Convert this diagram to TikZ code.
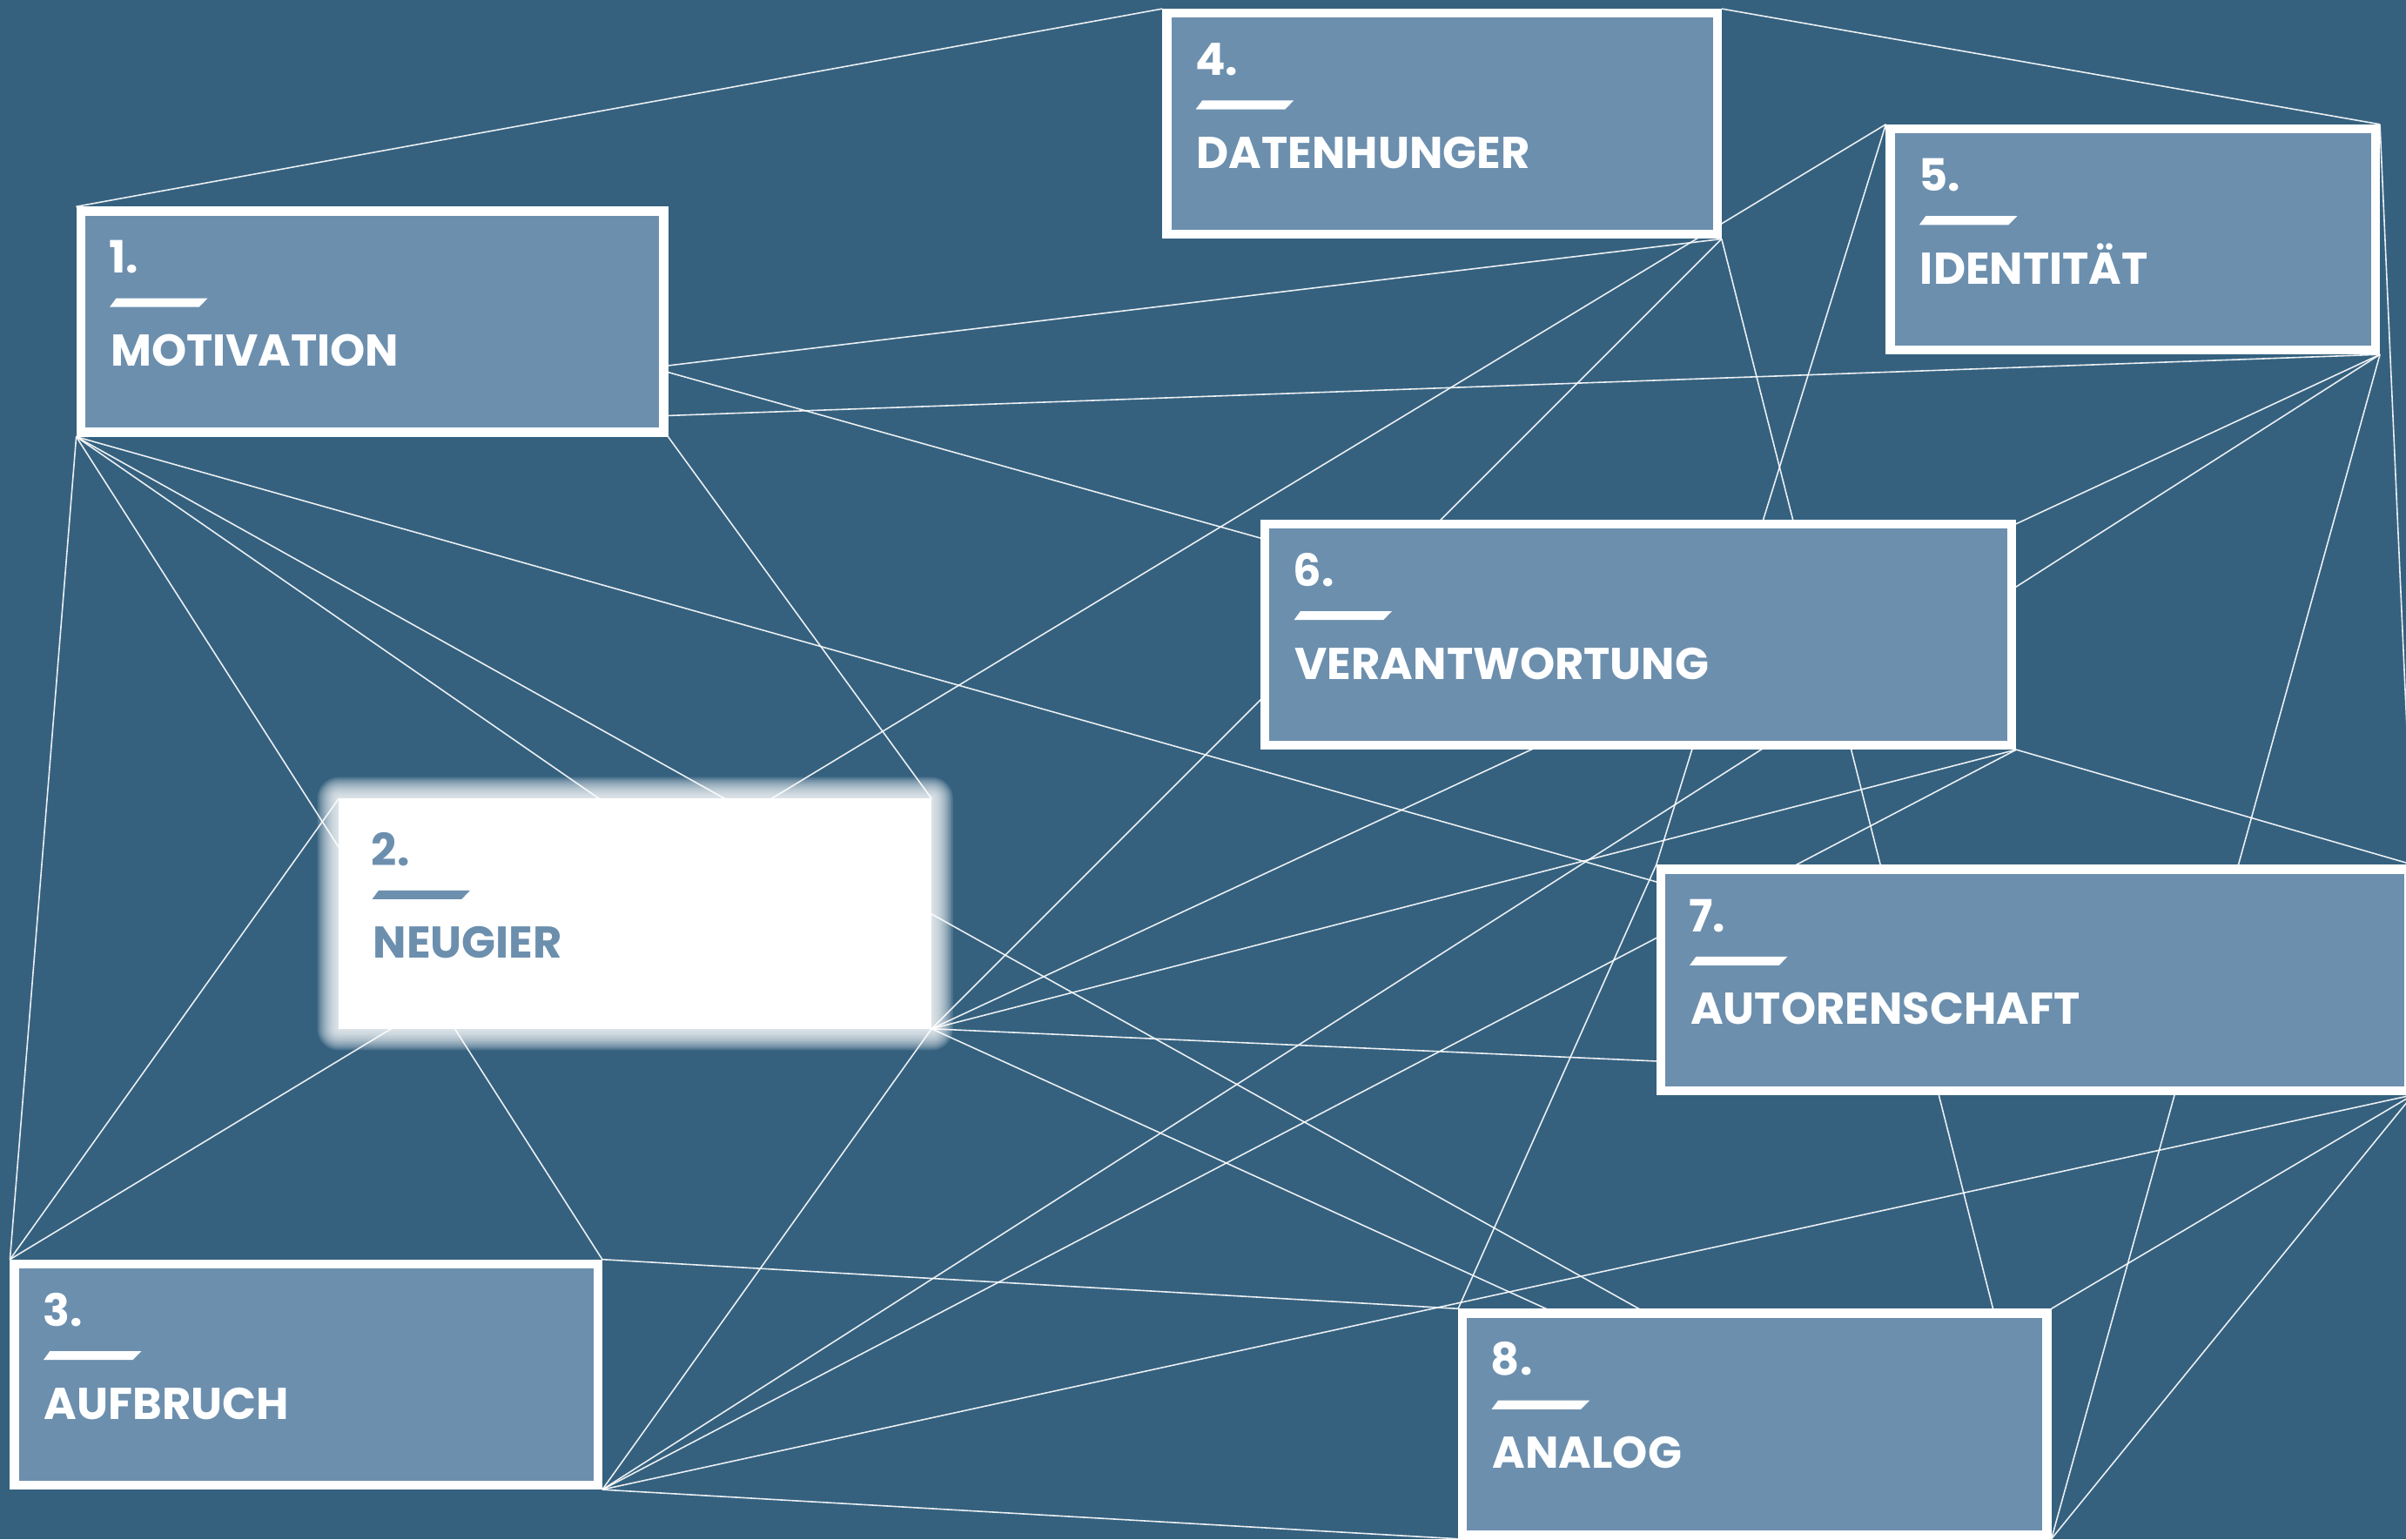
\documentclass[tikz,border=0pt]{standalone}
\usepackage{fontspec}
\newfontfamily\panelfont{Poppins}
\usetikzlibrary{calc}

\definecolor{bgblue}{RGB}{53,97,127}
\definecolor{panelblue}{RGB}{108,143,174}

\pgfdeclarelayer{backdrop}
\pgfdeclarelayer{links}
\pgfsetlayers{backdrop,links,main}

\tikzset{
  panel/.style={draw=white, line width=2.9pt, fill=panelblue, inner sep=0pt,
    outer sep=1.45pt, anchor=north west, minimum height=150*0.5pt-2.9pt},
  whitepanel/.style={panel, fill=white},
  link/.style={draw=white, draw opacity=0.9, line width=0.45pt},
  labeltext/.style={anchor=base west, inner sep=0pt,
    font=\panelfont\bfseries\fontsize{14.5}{16}\selectfont},
}

% number, slanted bar and title inside a panel
\newcommand\panellabel[4]{%
  \node[labeltext, text=#4] (#1num) at ([shift={(21,43.5)}]#1.north west) {#2};
  \fill[#4] ([shift={(21.8,65.5)}]#1.north west) -- ++(58.2,0) -- ++(5.6,-5.7) -- ++(-59.6,0) -- cycle;
  \node[labeltext, text=#4] (#1title) at ([shift={(22,104)}]#1.north west) {#3};
}

\begin{document}
\begin{tikzpicture}[x=0.5pt, y=-0.5pt]
  \useasboundingbox (0,0) rectangle (1568,1003);

  % panels (outer corners at the given positions)
  \node[panel, minimum width=385.7*0.5pt-2.9pt] (b1) at (49.7,134.6) {};
  \node[whitepanel, minimum width=386.3*0.5pt-2.9pt] (b2) at (220.8,520.4) {};
  \node[panel, minimum width=386.0*0.5pt-2.9pt] (b3) at (6.5,820.7) {};
  \node[panel, minimum width=364.5*0.5pt-2.9pt] (b4) at (757.5,5.7) {};
  \node[panel, minimum width=322.0*0.5pt-2.9pt] (b5) at (1229,81) {};
  \node[panel, minimum width=492.5*0.5pt-2.9pt] (b6) at (821.5,338.5) {};
  \node[panel, minimum width=493.1*0.5pt-2.9pt] (b7) at (1079.4,563.5) {};
  \node[panel, minimum width=386.6*0.5pt-2.9pt] (b8) at (950.3,852.8) {};

  \panellabel{b1}{1.}{MOTIVATION}{white}
  \panellabel{b2}{2.}{NEUGIER}{panelblue}
  \panellabel{b3}{3.}{AUFBRUCH}{white}
  \panellabel{b4}{4.}{DATENHUNGER}{white}
  \panellabel{b5}{5.}{IDENTITÄT}{white}
  \panellabel{b6}{6.}{VERANTWORTUNG}{white}
  \panellabel{b7}{7.}{AUTORENSCHAFT}{white}
  \panellabel{b8}{8.}{ANALOG}{white}

  % backdrop and the soft glow round the white panel
  \begin{pgfonlayer}{backdrop}
    \fill[bgblue] (0,0) rectangle (1568,1003);
    \foreach \i in {1,...,14} {
      \fill[white, opacity=0.12, rounded corners=\i*0.5pt]
        ($(b2.north west)+(-\i,-\i)$) rectangle ($(b2.south east)+(\i,\i)$);
    }
  \end{pgfonlayer}

  % connectors between panel corners
  \begin{pgfonlayer}{links}
    \foreach \a/\b in {
      b1.north west/b4.north west, b1.north west/b6.south east,
      b1.south west/b3.north west, b1.south west/b3.north east,
      b1.south west/b2.south east, b1.south west/b8.south east,
      b1.south west/b7.south east, b1.south west/b4.south east,
      b1.south west/b5.south east, b1.south east/b2.north east,
      b2.north west/b3.north west, b3.north west/b5.north west,
      b4.south east/b2.south east, b4.south east/b8.south east,
      b4.north east/b5.north east, b5.north west/b7.north west,
      b5.north east/b7.north east, b5.south east/b2.south east,
      b5.south east/b3.south east, b5.south east/b8.south east,
      b6.south east/b2.south east, b6.south east/b3.south east,
      b6.south east/b7.north east, b7.south east/b2.south east,
      b7.south east/b3.south east, b7.south east/b8.north east,
      b7.south east/b8.south east, b7.north west/b8.north west,
      b2.south east/b3.south east, b2.south east/b8.south east,
      b3.north east/b8.north west, b3.south east/b8.south west}
      \draw[link] (\a) -- (\b);
  \end{pgfonlayer}
\end{tikzpicture}
\end{document}
